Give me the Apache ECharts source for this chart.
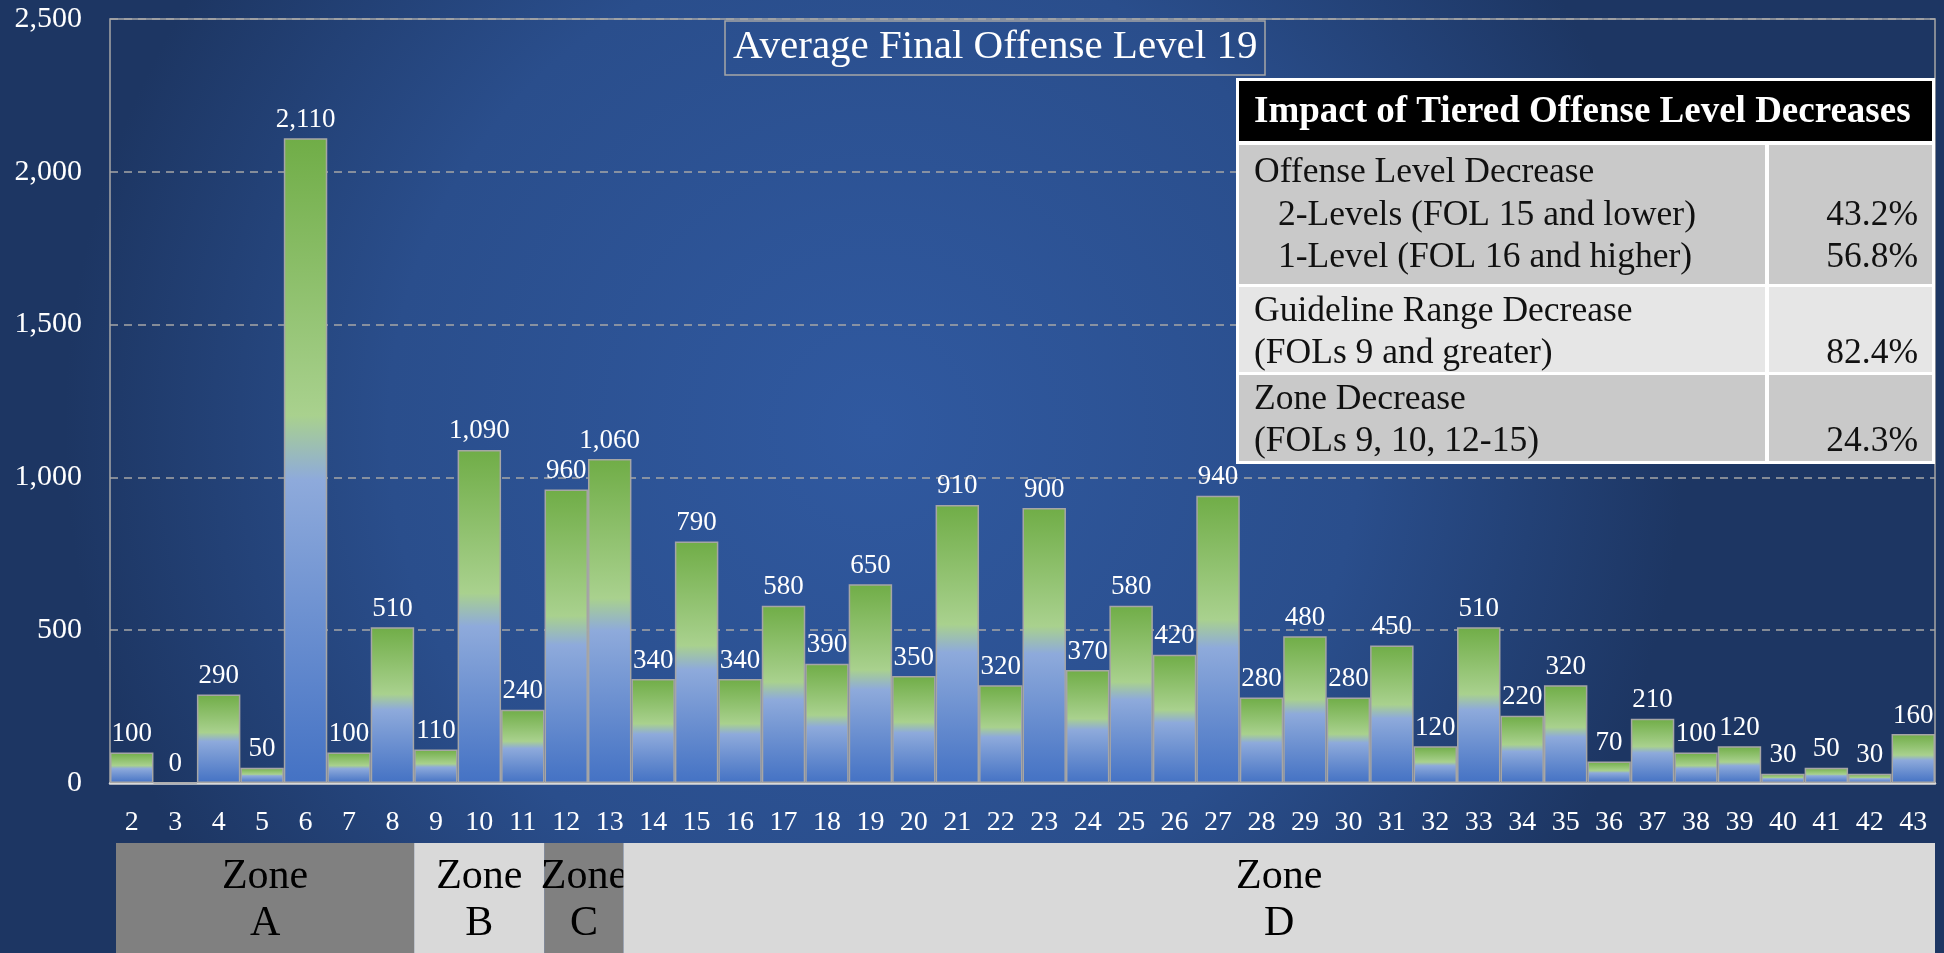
<!DOCTYPE html>
<html>
<head>
    <meta charset="utf-8" />
    <title>Final Offense Level</title>
    <script src="https://cdn.jsdelivr.net/npm/echarts@6.0.0/dist/echarts.min.js"></script>
    <style>
        html, body { margin: 0; padding: 0; }
    </style>
</head>
<body>
    <div id="main" style="width: 1944px;height: 953px;"></div>
    <script type="text/javascript">
        // data
        var categories = ['2', '3', '4', '5', '6', '7', '8', '9', '10', '11', '12', '13', '14', '15',
            '16', '17', '18', '19', '20', '21', '22', '23', '24', '25', '26', '27', '28', '29',
            '30', '31', '32', '33', '34', '35', '36', '37', '38', '39', '40', '41', '42', '43'];
        var counts = [100, 0, 290, 50, 2110, 100, 510, 110, 1090, 240, 960, 1060, 340, 790,
            340, 580, 390, 650, 350, 910, 320, 900, 370, 580, 420, 940, 280, 480,
            280, 450, 120, 510, 220, 320, 70, 210, 100, 120, 30, 50, 30, 160];

        var boxTitle = 'Average Final Offense Level 19';

        var zoneNames = ['A', 'B', 'C', 'D'];
        var zoneFirst = ['2', '9', '12', '14'];
        var zoneLast = ['8', '11', '13', '43'];

        var tableTitle = 'Impact of Tiered Offense Level Decreases';
        var rowLabels = [
            ['Offense Level Decrease', '2-Levels (FOL 15 and lower)', '1-Level (FOL 16 and higher)'],
            ['Guideline Range Decrease', '(FOLs 9 and greater)'],
            ['Zone Decrease', '(FOLs 9, 10, 12-15)']
        ];
        var rowValues = [
            ['', '43.2%', '56.8%'],
            ['', '82.4%'],
            ['', '24.3%']
        ];

        var FONT = '"Liberation Serif", serif';
        var myChart = echarts.init(document.getElementById('main'));

        var barColor = new echarts.graphic.LinearGradient(0, 0, 0, 1, [
            { offset: 0, color: '#70ad47' },
            { offset: 0.43, color: '#a9d18e' },
            { offset: 0.53, color: '#8eaadb' },
            { offset: 1, color: '#4472c4' }
        ]);

        function fmt(v) {
            return Number(v).toLocaleString('en-US');
        }

        var option = {
            animation: false,
            backgroundColor: {
                type: 'radial', x: 0.45, y: 0.45, r: 0.85,
                colorStops: [
                    { offset: 0, color: '#3059a0' },
                    { offset: 0.6, color: '#2a4e8c' },
                    { offset: 1, color: '#1d3663' }
                ]
            },
            title: {
                text: boxTitle,
                left: 725,
                top: 21,
                padding: [6, 8, 7, 8],
                borderColor: '#a6a6a6',
                borderWidth: 1.5,
                textStyle: { color: '#fff', fontSize: 41, fontWeight: 'normal', fontFamily: FONT }
            },
            grid: {
                left: 110, right: 9, top: 19, bottom: 170,
                show: true,
                borderColor: '#a6a6a6',
                borderWidth: 1.5
            },
            xAxis: {
                type: 'category',
                data: categories,
                axisTick: { show: false },
                axisLine: { lineStyle: { color: '#d9d9d9', width: 2.5 } },
                axisLabel: { color: '#fff', fontSize: 28, fontFamily: FONT, margin: 26, interval: 0 }
            },
            yAxis: {
                type: 'value',
                min: 0, max: 2500, interval: 500,
                axisLine: { show: false },
                axisTick: { show: false },
                splitLine: { lineStyle: { color: '#a6a6a6', type: [8, 6], width: 1.5 } },
                axisLabel: {
                    color: '#fff', fontSize: 30, fontFamily: FONT, margin: 28,
                    formatter: fmt
                }
            },
            series: [{
                type: 'bar',
                data: counts,
                barCategoryGap: 0,
                itemStyle: { color: barColor, borderColor: '#a6a6a6', borderWidth: 1.5 },
                label: {
                    show: true, position: 'top', distance: 5,
                    color: '#fff', fontSize: 27, fontFamily: FONT,
                    formatter: function (p) { return fmt(p.value); }
                }
            }]
        };
        myChart.setOption(option);

        // zone bands under the axis
        var graphics = [];
        var step = myChart.convertToPixel({ xAxisIndex: 0 }, '3') - myChart.convertToPixel({ xAxisIndex: 0 }, '2');
        var zoneFill = ['#808080', '#d9d9d9', '#808080', '#d9d9d9'];
        var zoneNudgeL = [6, 0, 0, -8];
        var zoneNudgeR = [0, 0, -8, 0];
        for (var i = 0; i < zoneNames.length; i++) {
            var x0 = myChart.convertToPixel({ xAxisIndex: 0 }, zoneFirst[i]) - step / 2 + zoneNudgeL[i];
            var x1 = myChart.convertToPixel({ xAxisIndex: 0 }, zoneLast[i]) + step / 2 + zoneNudgeR[i];
            graphics.push({
                type: 'rect', shape: { x: x0, y: 843, width: x1 - x0, height: 110 },
                style: { fill: zoneFill[i] }
            });
            graphics.push({
                type: 'text', x: (x0 + x1) / 2, y: 900,
                style: {
                    text: 'Zone\n' + zoneNames[i], fill: '#000', font: '42px ' + FONT,
                    align: 'center', verticalAlign: 'middle', lineHeight: 47
                }
            });
        }

        // table of impacts
        var tx0 = 1236, tx1 = 1935, colX = 1767;
        graphics.push({ type: 'rect', shape: { x: tx0, y: 78, width: tx1 - tx0, height: 386 }, style: { fill: '#fff' } });
        graphics.push({ type: 'rect', shape: { x: tx0 + 3, y: 81, width: tx1 - tx0 - 6, height: 60 }, style: { fill: '#000' } });
        graphics.push({
            type: 'text', x: 1254, y: 112,
            style: { text: tableTitle, fill: '#fff', font: 'bold 37px ' + FONT, verticalAlign: 'middle' }
        });
        var rowTop = [145, 287, 375];
        var rowBottom = [284, 372, 461];
        var rowFill = ['#c9c9c9', '#e6e6e6', '#c9c9c9'];
        var lineY = [[173, 216, 258], [312, 354], [400, 442]];
        for (var r = 0; r < rowLabels.length; r++) {
            graphics.push({ type: 'rect', shape: { x: tx0 + 3, y: rowTop[r], width: colX - tx0 - 5, height: rowBottom[r] - rowTop[r] }, style: { fill: rowFill[r] } });
            graphics.push({ type: 'rect', shape: { x: colX + 2, y: rowTop[r], width: tx1 - colX - 5, height: rowBottom[r] - rowTop[r] }, style: { fill: rowFill[r] } });
            for (var k = 0; k < rowLabels[r].length; k++) {
                var indent = (r === 0 && k > 0) ? 24 : 0;
                graphics.push({
                    type: 'text', x: 1254 + indent, y: lineY[r][k],
                    style: { text: rowLabels[r][k], fill: '#111', font: '35.5px ' + FONT, verticalAlign: 'middle' }
                });
                if (rowValues[r][k]) {
                    graphics.push({
                        type: 'text', x: 1918, y: lineY[r][k],
                        style: { text: rowValues[r][k], fill: '#111', font: '35.5px ' + FONT, align: 'right', verticalAlign: 'middle' }
                    });
                }
            }
        }
        myChart.setOption({ graphic: graphics });
    </script>
</body>
</html>
